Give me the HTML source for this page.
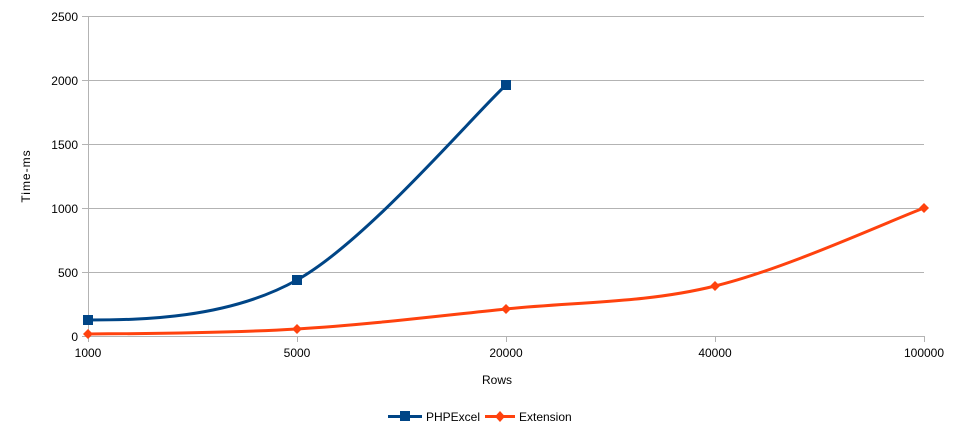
<!DOCTYPE html>
<html><head><style>body{margin:0;background:#fff}svg{display:block}text{font-family:"Liberation Sans",sans-serif;font-size:12px;fill:#000}</style></head>
<body><svg width="957" height="433" viewBox="0 0 957 433">
<g stroke="#b3b3b3" stroke-width="1">
<line x1="88" y1="16.5" x2="924" y2="16.5"/><line x1="88" y1="80.5" x2="924" y2="80.5"/><line x1="88" y1="144.5" x2="924" y2="144.5"/><line x1="88" y1="208.5" x2="924" y2="208.5"/><line x1="88" y1="272.5" x2="924" y2="272.5"/><line x1="88" y1="336.5" x2="924" y2="336.5"/>
<line x1="88.5" y1="16" x2="88.5" y2="342"/>
<line x1="297.5" y1="336" x2="297.5" y2="342"/><line x1="506.5" y1="336" x2="506.5" y2="342"/><line x1="715.5" y1="336" x2="715.5" y2="342"/><line x1="924.5" y1="336" x2="924.5" y2="342"/>
<line x1="82" y1="16.5" x2="88" y2="16.5"/><line x1="82" y1="80.5" x2="88" y2="80.5"/><line x1="82" y1="144.5" x2="88" y2="144.5"/><line x1="82" y1="208.5" x2="88" y2="208.5"/><line x1="82" y1="272.5" x2="88" y2="272.5"/><line x1="82" y1="336.5" x2="88" y2="336.5"/>
</g>
<g text-anchor="end"><text x="78" y="21">2500</text><text x="78" y="85">2000</text><text x="78" y="149">1500</text><text x="78" y="213">1000</text><text x="78" y="277">500</text><text x="78" y="341">0</text></g>
<g text-anchor="middle"><text x="88" y="357">1000</text><text x="297" y="357">5000</text><text x="506" y="357">20000</text><text x="715" y="357">40000</text><text x="924" y="357">100000</text>
<text x="497" y="384">Rows</text>
<text transform="translate(30,176) rotate(-90)" letter-spacing="1">Time-ms</text></g>
<path d="M88,320 C140,320 227.3,319 297,280 C366.7,241 471.2,117.5 506,85" fill="none" stroke="#004586" stroke-width="3"/>
<path d="M88,334 C122.8,333.8 227.3,333.2 297,329 C366.7,324.8 436.3,316.2 506,309 C575.7,301.8 645.3,303.3 715,286 C784.7,269.2 889.2,221 924,208" fill="none" stroke="#ff420e" stroke-width="3"/>
<g fill="#004586"><rect x="83" y="315" width="10" height="10"/><rect x="292" y="275" width="10" height="10"/><rect x="501" y="80" width="10" height="10"/></g>
<g fill="#ff420e"><path d="M88,329l5,5l-5,5l-5,-5z"/><path d="M297,324l5,5l-5,5l-5,-5z"/><path d="M506,304l5,5l-5,5l-5,-5z"/><path d="M715,281l5,5l-5,5l-5,-5z"/><path d="M924,203l5,5l-5,5l-5,-5z"/></g>
<line x1="388" y1="416.5" x2="422" y2="416.5" stroke="#004586" stroke-width="3"/><rect x="400" y="411" width="10" height="10" fill="#004586"/>
<text x="426" y="421">PHPExcel</text>
<line x1="485" y1="416.5" x2="515" y2="416.5" stroke="#ff420e" stroke-width="3"/><path d="M500,411l5,5.5l-5,5.5l-5,-5.5z" fill="#ff420e"/>
<text x="519" y="421">Extension</text>
</svg></body></html>
